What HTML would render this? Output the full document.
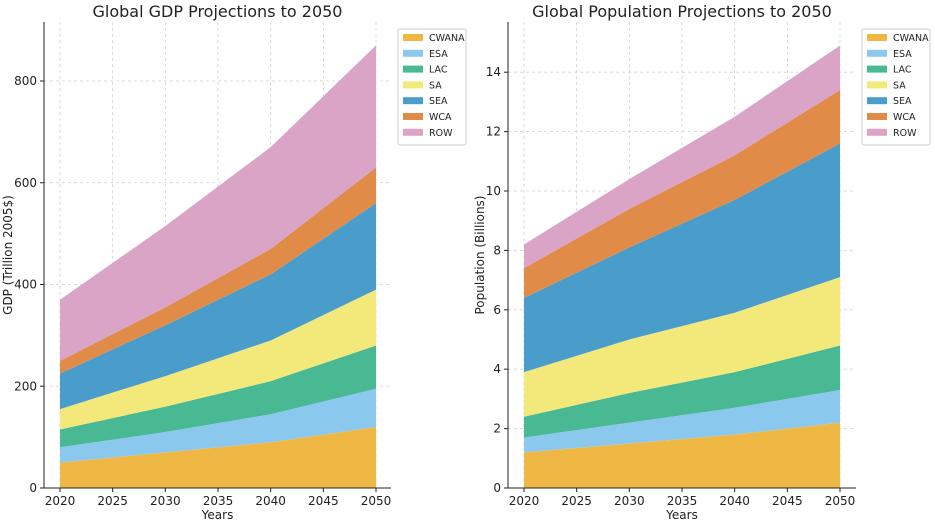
<!DOCTYPE html>
<html><head><meta charset="utf-8"><style>
body{margin:0;background:#fff;font-family:"DejaVu Sans","Liberation Sans",sans-serif;}
svg text{font-family:"DejaVu Sans","Liberation Sans",sans-serif;}
</style></head><body>
<svg id="c" width="935" height="522"></svg>
<script>
const years=[2020,2030,2040,2050];
const regions=["CWANA","ESA","LAC","SA","SEA","WCA","ROW"];
const colors=["#efb845","#8ac8ee","#48b993","#f3e97b","#4a9dcb","#e08c48","#d9a4c6"];
const gdpCWANA=[50,70,90,120];
const gdpESA=[30,40,55,75];
const gdpLAC=[35,50,65,85];
const gdpSA=[40,60,80,110];
const gdpSEA=[70,100,130,170];
const gdpWCA=[25,35,50,70];
const gdpROW=[120,160,200,240];
const popCWANA=[1.2,1.5,1.8,2.2];
const popESA=[0.5,0.7,0.9,1.1];
const popLAC=[0.7,1.0,1.2,1.5];
const popSA=[1.5,1.8,2.0,2.3];
const popSEA=[2.5,3.1,3.8,4.5];
const popWCA=[1.0,1.3,1.5,1.8];
const popROW=[0.8,1.0,1.3,1.5];
const xTicks=[2020,2025,2030,2035,2040,2045,2050];
const gdpTicks=[0,200,400,600,800];
const popTicks=[0,2,4,6,8,10,12,14];
const NS="http://www.w3.org/2000/svg";
const svg=document.getElementById('c');
function mk(t,a,p){const e=document.createElementNS(NS,t);for(const k in a)e.setAttribute(k,a[k]);(p||svg).appendChild(e);return e;}
function chart(o){
  const g=mk('g',{});
  
  
  const X=v=>o.x0+(v-2020)/30*(o.x2-o.x0);
  const Y=v=>o.yb-v/o.ymax*(o.yb-o.yt);
  // grid
  xTicks.forEach(t=>{mk('line',{x1:X(t),x2:X(t),y1:o.yt,y2:o.yb,stroke:'#d0d0d0','stroke-dasharray':'3,3','stroke-width':0.8},g);});
  o.yTicks.forEach(t=>{mk('line',{x1:o.L,x2:o.R,y1:Y(t),y2:Y(t),stroke:'#d0d0d0','stroke-dasharray':'3,3','stroke-width':0.8},g);});
  let base=years.map(()=>0);
  o.series.forEach((s,i)=>{
    const top=base.map((b,j)=>b+s[j]);
    let d='M'+years.map((y,j)=>X(y)+','+Y(top[j])).join(' L');
    d+=' L'+years.slice().reverse().map((y,j)=>X(y)+','+Y(base[years.length-1-j])).join(' L')+'Z';
    const p=mk('path',{d:d,fill:colors[i]},g);
    
    
    base=top;
  });
  mk('line',{x1:o.L,x2:o.L,y1:o.yt,y2:o.yb,stroke:'#222'},g);
  mk('line',{x1:o.L,x2:o.R,y1:o.yb,y2:o.yb,stroke:'#222'},g);
  xTicks.forEach(t=>{mk('line',{x1:X(t),x2:X(t),y1:o.yb,y2:o.yb+4,stroke:'#222'},g);
    const tx=mk('text',{x:X(t),y:o.yb+17,'text-anchor':'middle','font-size':12,fill:'#222'},g);tx.textContent=t;});
  o.yTicks.forEach(t=>{mk('line',{x1:o.L-4,x2:o.L,y1:Y(t),y2:Y(t),stroke:'#222'},g);
    const tx=mk('text',{x:o.L-7,y:Y(t)+4,'text-anchor':'end','font-size':12,fill:'#222'},g);tx.textContent=t;});
  const ti=mk('text',{x:(o.L+o.R)/2,y:17,'text-anchor':'middle','font-size':16,fill:'#222'},g);ti.textContent=o.title;
  
  const xl=mk('text',{x:(o.L+o.R)/2,y:519,'text-anchor':'middle','font-size':12,fill:'#222'},g);xl.textContent='Years';
  
  const yl=mk('text',{x:0,y:0,'text-anchor':'middle','font-size':12,fill:'#222',transform:`translate(${o.ylx},${(o.yt+o.yb)/2}) rotate(-90)`},g);yl.textContent=o.ylabel;
  
  const lg=mk('g',{},g);
  
  mk('rect',{x:o.lx,y:29,width:68,height:116,fill:'#fff',stroke:'#ccc',rx:2},lg);
  regions.forEach((r,i)=>{
    const e=mk('g',{},lg);
    
    mk('rect',{x:o.lx+5,y:34+i*15.8,width:20,height:7,fill:colors[i]},e);
    const t=mk('text',{x:o.lx+31,y:41+i*15.8,'font-size':9.5,fill:'#222'},e);t.textContent=r;
  });
}
chart({name:'gdp-chart',L:44,R:391,x0:60,x2:376,yt:22,yb:488,ymax:916,yTicks:gdpTicks,ylx:12,lx:398,
  title:'Global GDP Projections to 2050',ylabel:'GDP (Trillion 2005$)',
  series:[gdpCWANA,gdpESA,gdpLAC,gdpSA,gdpSEA,gdpWCA,gdpROW]});
chart({name:'population-chart',L:508,R:856,x0:524,x2:840,yt:22,yb:488,ymax:15.69,yTicks:popTicks,ylx:484,lx:862,
  title:'Global Population Projections to 2050',ylabel:'Population (Billions)',
  series:[popCWANA,popESA,popLAC,popSA,popSEA,popWCA,popROW]});
</script>
</body></html>
